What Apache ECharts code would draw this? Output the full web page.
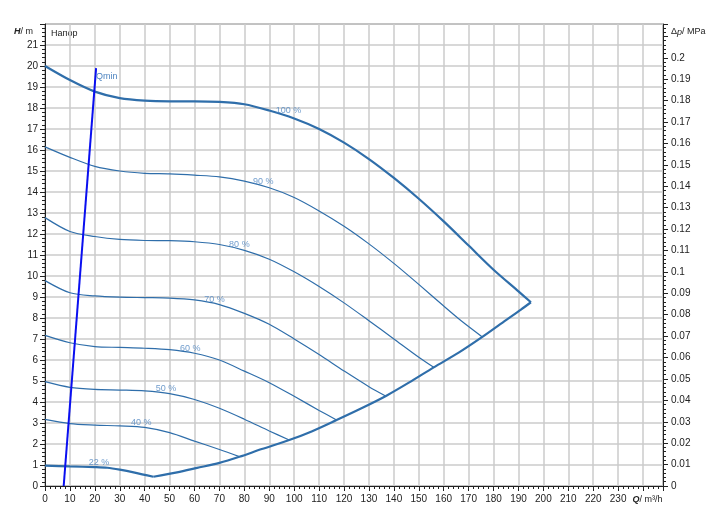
<!DOCTYPE html>
<html><head><meta charset="utf-8">
<script src="https://cdn.jsdelivr.net/npm/echarts@6/dist/echarts.min.js"></script>
<style>html,body{margin:0;padding:0;background:#fff}#c{width:722px;height:531px}</style>
</head><body><div id="c"></div><script>
// Speed curves: [Q m3/h, H m]
const curve100 = [[0,20.0],[10,19.33],[20,18.78],[30,18.47],[40,18.35],[50,18.32],[60,18.32],[70,18.29],[80,18.18],[90,17.88],[100,17.5],[110,17.0],[120,16.35],[130,15.57],[140,14.67],[150,13.68],[160,12.6],[170,11.45],[180,10.3],[190,9.27],[195,8.75]];
const curve90 = [[0,16.15],[10,15.65],[20,15.22],[30,15.0],[40,14.89],[50,14.86],[60,14.8],[70,14.72],[80,14.52],[90,14.2],[100,13.74],[110,13.1],[120,12.37],[130,11.53],[140,10.6],[150,9.6],[160,8.57],[167,7.87],[175.5,7.1]];
const curve80 = [[0,12.78],[10,12.12],[20,11.88],[30,11.74],[40,11.69],[50,11.68],[60,11.63],[70,11.5],[80,11.22],[90,10.8],[100,10.2],[110,9.5],[120,8.72],[130,7.87],[140,7.0],[150,6.13],[156,5.65]];
const curve70 = [[0,9.78],[10,9.2],[20,9.05],[30,8.99],[40,8.97],[50,8.95],[60,8.86],[70,8.64],[80,8.22],[90,7.7],[100,7.0],[110,6.26],[120,5.48],[130,4.73],[136.5,4.3]];
const curve60 = [[0,7.17],[10,6.82],[20,6.64],[30,6.6],[40,6.56],[50,6.49],[60,6.32],[70,6.0],[80,5.47],[90,4.92],[100,4.27],[110,3.6],[117,3.14]];
const curve50 = [[0,4.97],[10,4.7],[20,4.6],[30,4.57],[40,4.53],[50,4.4],[60,4.12],[70,3.7],[80,3.18],[90,2.62],[98,2.19]];
const curve40 = [[0,3.17],[10,2.97],[20,2.9],[30,2.86],[40,2.79],[50,2.54],[60,2.14],[70,1.74],[78,1.4]];
const curve22 = [[0,0.97],[10,0.93],[20,0.9],[25,0.87],[30,0.78],[36,0.64],[43.5,0.44]];
// Lower limit curve
const limitCurve = [[43.5,0.44],[53,0.65],[61,0.86],[70,1.1],[78,1.39],[87,1.76],[98,2.19],[107,2.6],[117,3.14],[127,3.7],[137,4.3],[146,4.92],[156,5.65],[166,6.35],[175.5,7.1],[185,7.9],[191,8.4],[195,8.75]];
// Qmin line
const qminLine = [[7.5,0],[20.5,19.9]];
// Curve labels [Q, H, text]
const curveLabels = [[97.7,17.86,'100 %'],[87.6,14.48,'90 %'],[78,11.52,'80 %'],[68,8.86,'70 %'],[58.3,6.57,'60 %'],[48.6,4.62,'50 %'],[38.6,3.0,'40 %'],[21.7,1.1,'22 %']];

const LINE = '#2f6eaa', LBL = '#4d84c0', FONT = 'Liberation Sans, Arial, sans-serif';
const curves = [
  {d: curve100, w: 2.2}, {d: curve90, w: 1.2}, {d: curve80, w: 1.2}, {d: curve70, w: 1.2},
  {d: curve60, w: 1.2}, {d: curve50, w: 1.2}, {d: curve40, w: 1.2}, {d: curve22, w: 2.2},
  {d: limitCurve, w: 2.2}
];
const series = curves.map(c => ({
  type: 'line', data: c.d, showSymbol: false, smooth: 0.3, silent: true,
  lineStyle: {color: LINE, width: c.w}, z: 3
}));
series.push({
  type: 'line', data: qminLine, showSymbol: false, silent: true,
  lineStyle: {color: '#0a0ff0', width: 2}, z: 4,
  endLabel: {show: true, formatter: 'Qmin', color: LBL, fontSize: 9, fontFamily: FONT, offset: [-2, 8], distance: 2}
});
series.push({
  type: 'scatter', data: curveLabels, symbolSize: 0, silent: true, z: 5,
  label: {show: true, position: 'inside', formatter: p => p.data[2], color: LBL, fontSize: 9, fontFamily: FONT}
});

const axisCommon = {
  axisLine: {show: true, lineStyle: {color: '#222', width: 1}},
  axisTick: {show: true, length: 5, lineStyle: {color: '#222'}},
  minorTick: {show: true, splitNumber: 5, length: 3, lineStyle: {color: '#222'}},
  axisLabel: {color: '#222', fontSize: 10, fontFamily: FONT}
};
const ITALIC = {fontStyle: 'italic', fontWeight: 'bold', fontSize: 9, fontFamily: FONT, color: '#222'};
const GRIDLINE = {show: true, lineStyle: {color: '#cbcbcb', width: 1.5}};
const chart = echarts.init(document.getElementById('c'), null, {renderer: 'canvas'});
chart.setOption({
  animation: false,
  backgroundColor: '#fff',
  grid: {left: 45, right: 59, top: 24, bottom: 45, show: true, borderColor: '#555', borderWidth: 1, backgroundColor: 'transparent'},
  graphic: [{type: 'text', left: 51, top: 29, style: {text: 'Напор', fill: '#222', fontSize: 9, fontFamily: FONT}}],
  xAxis: Object.assign({}, axisCommon, {
    type: 'value', min: 0, max: 248, interval: 10,
    splitLine: GRIDLINE,
    name: '{i|Q}/ m³/h', nameLocation: 'end', nameGap: -3,
    nameTextStyle: {align: 'right', verticalAlign: 'top', padding: [9, 0, 0, 0], fontSize: 9, fontFamily: FONT, color: '#222', rich: {i: ITALIC}},
    axisLabel: Object.assign({}, axisCommon.axisLabel, {
      margin: 8, showMaxLabel: false,
      formatter: v => v >= 240 ? '' : String(v)
    })
  }),
  yAxis: [
    Object.assign({}, axisCommon, {
      type: 'value', min: 0, max: 22, interval: 1, position: 'left',
      splitLine: GRIDLINE,
      name: '{i|H}/ m', nameLocation: 'end', nameGap: -8,
      nameTextStyle: {align: 'right', verticalAlign: 'middle', padding: [0, 12, 0, 0], fontSize: 9, fontFamily: FONT, color: '#222', rich: {i: ITALIC}},
      axisLabel: Object.assign({}, axisCommon.axisLabel, {margin: 7, formatter: v => v >= 22 ? '' : String(v)})
    }),
    Object.assign({}, axisCommon, {
      type: 'value', min: 0, max: 0.2158, interval: 0.01, position: 'right',
      splitLine: {show: false},
      name: 'Δ{i|p}/ MPa', nameLocation: 'end', nameGap: -8,
      nameTextStyle: {align: 'left', verticalAlign: 'middle', padding: [0, 0, 0, 8], fontSize: 9, fontFamily: FONT, color: '#222',
        rich: {i: {fontStyle: 'italic', fontSize: 9, fontFamily: FONT, color: '#222'}}},
      axisLabel: Object.assign({}, axisCommon.axisLabel, {margin: 8, formatter: v => v > 0.205 ? '' : String(+v.toFixed(2))})
    })
  ],
  series: series
});
</script></body></html>
